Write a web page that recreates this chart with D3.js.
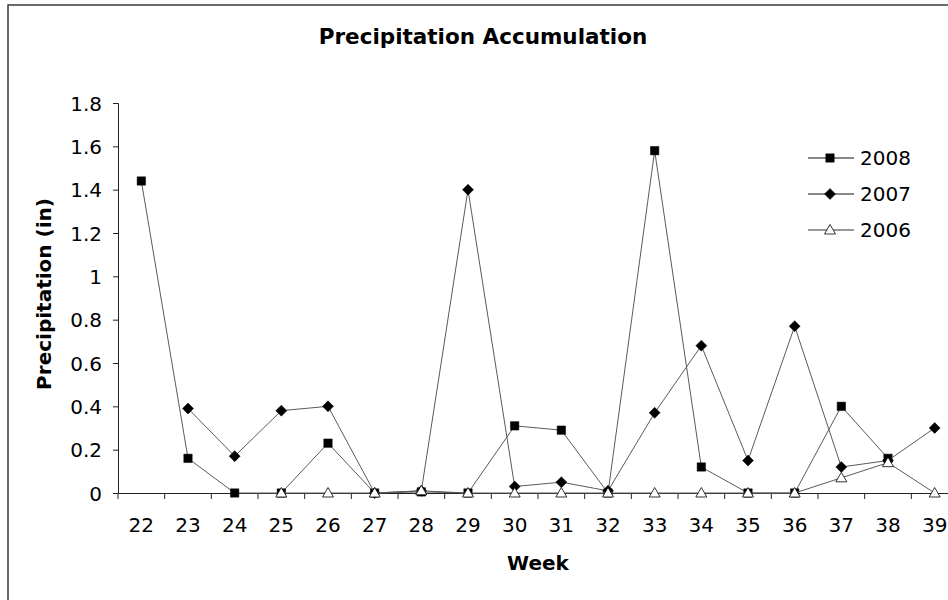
<!DOCTYPE html>
<html>
<head>
<meta charset="utf-8">
<script src="https://cdn.jsdelivr.net/npm/d3@7"></script>
<style>
    body { margin: 0; background: white; }
    svg text { font-family: "DejaVu Sans", Verdana, sans-serif; fill: black; }
</style>
</head>
<body>
<div id="chart"></div>
<script>
var svgWidth = 948;
var svgHeight = 600;

// plot area runs past the right edge, the original picture is cropped there
var margin = { top: 103, left: 118 };
var plotWidth = 840;
var plotHeight = 390;

var weeks = [22, 23, 24, 25, 26, 27, 28, 29, 30, 31, 32, 33, 34, 35, 36, 37, 38, 39];
var precip2008 = [1.44, 0.16, 0, 0, 0.23, 0, 0.005, 0, 0.31, 0.29, 0, 1.58, 0.12, 0, 0, 0.40, 0.16, null];
var precip2007 = [null, 0.39, 0.17, 0.38, 0.40, 0, 0.01, 1.40, 0.03, 0.05, 0.01, 0.37, 0.68, 0.15, 0.77, 0.12, 0.15, 0.30];
var precip2006 = [null, null, null, 0, 0, 0, 0.01, 0, 0, 0, 0, 0, 0, 0, 0, 0.07, 0.14, 0];
var yTicks = [0, 0.2, 0.4, 0.6, 0.8, 1, 1.2, 1.4, 1.6, 1.8];

var series = [
    { name: "2008", values: precip2008, marker: "square" },
    { name: "2007", values: precip2007, marker: "diamond" },
    { name: "2006", values: precip2006, marker: "triangle" }
];

var svg = d3.select("#chart")
    .append("svg")
    .attr("width", svgWidth)
    .attr("height", svgHeight);

// outer chart frame
svg.append("rect")
    .attr("x", 8)
    .attr("y", 5)
    .attr("width", 1200)
    .attr("height", 900)
    .attr("fill", "none")
    .attr("stroke", "#3a3a3a")
    .attr("stroke-width", 1.5);

svg.append("text")
    .attr("x", 483)
    .attr("y", 44)
    .attr("text-anchor", "middle")
    .style("font-size", "21.5px")
    .style("font-weight", "bold")
    .text("Precipitation Accumulation");

var chartGroup = svg.append("g")
    .attr("transform", `translate(${margin.left}, ${margin.top})`);

var xScale = d3.scaleBand()
    .domain(weeks)
    .range([0, plotWidth])
    .padding(0);

var yScale = d3.scaleLinear()
    .domain([0, 1.8])
    .range([plotHeight, 0]);

var leftAxis = d3.axisLeft(yScale)
    .tickValues(yTicks)
    .tickSize(5)
    .tickPadding(11)
    .tickFormat(d => +d.toFixed(1));

var yAxis = chartGroup.append("g").call(leftAxis);
yAxis.select(".domain").attr("stroke", "#222");
yAxis.selectAll(".tick line").attr("stroke", "#222");
yAxis.selectAll("text")
    .style("font-size", "20px")
    .attr("dy", "0.36em");

// x axis: labels centred on each week, tick marks on category edges
var bottomAxis = d3.axisBottom(xScale)
    .tickSize(0)
    .tickPadding(25);

var xAxis = chartGroup.append("g")
    .attr("transform", `translate(0, ${plotHeight})`)
    .call(bottomAxis);
xAxis.select(".domain").attr("stroke", "#222");
xAxis.selectAll("text")
    .style("font-size", "20px")
    .attr("dy", "0.72em");

var edges = weeks.map(w => xScale(w)).concat([xScale.range()[1]]);
xAxis.selectAll("line.edge")
    .data(edges)
    .enter()
    .append("line")
    .attr("class", "edge")
    .attr("x1", d => d)
    .attr("x2", d => d)
    .attr("y1", 0)
    .attr("y2", 6)
    .attr("stroke", "#222");

chartGroup.append("text")
    .attr("x", plotWidth / 2)
    .attr("y", plotHeight + 77)
    .attr("text-anchor", "middle")
    .style("font-size", "20px")
    .style("font-weight", "bold")
    .text("Week");

svg.append("text")
    .attr("transform", "rotate(-90)")
    .attr("x", -(margin.top + plotHeight / 2) + 4)
    .attr("y", 51)
    .attr("text-anchor", "middle")
    .style("font-size", "20px")
    .style("font-weight", "bold")
    .text("Precipitation (in)");

function markerPath(type) {
    if (type === "square") return "M-4.2,-4.2H4.2V4.2H-4.2Z";
    if (type === "diamond") return "M0,-5.5L5.5,0L0,5.5L-5.5,0Z";
    return "M0,-5.5L5.5,4L-5.5,4Z";
}

var xMid = i => xScale(weeks[i]) + xScale.bandwidth() / 2;

var createLine = d3.line()
    .defined(d => d != null)
    .x((d, i) => xMid(i))
    .y(d => yScale(d));

series.forEach(function(s) {
    var g = chartGroup.append("g");
    g.append("path")
        .attr("d", createLine(s.values))
        .attr("fill", "none")
        .attr("stroke", "#5a5a5a")
        .attr("stroke-width", 1);

    g.selectAll("path.mark")
        .data(s.values.map((v, i) => ({ v: v, i: i })).filter(d => d.v != null))
        .enter()
        .append("path")
        .attr("class", "mark")
        .attr("d", markerPath(s.marker))
        .attr("transform", d => `translate(${xMid(d.i)}, ${yScale(d.v)})`)
        .attr("fill", s.marker === "triangle" ? "white" : "black")
        .attr("stroke", "black")
        .attr("stroke-width", s.marker === "triangle" ? 0.8 : 0.5);
});

// legend
var legend = svg.append("g")
    .attr("transform", "translate(808, 158)");

var legendRows = legend.selectAll("g")
    .data(series)
    .enter()
    .append("g")
    .attr("transform", (d, i) => `translate(0, ${i * 36})`);

legendRows.append("line")
    .attr("x1", 0)
    .attr("x2", 46)
    .attr("stroke", d => d.marker === "triangle" ? "#777" : "#111")
    .attr("stroke-width", d => d.marker === "triangle" ? 1.6 : 1.2);

legendRows.append("path")
    .attr("d", d => markerPath(d.marker))
    .attr("transform", "translate(22, 0)")
    .attr("fill", d => d.marker === "triangle" ? "white" : "black")
    .attr("stroke", "black")
    .attr("stroke-width", d => d.marker === "triangle" ? 0.8 : 0.5);

legendRows.append("text")
    .attr("x", 52)
    .attr("dy", "0.36em")
    .style("font-size", "20px")
    .text(d => d.name);
</script>
</body>
</html>
